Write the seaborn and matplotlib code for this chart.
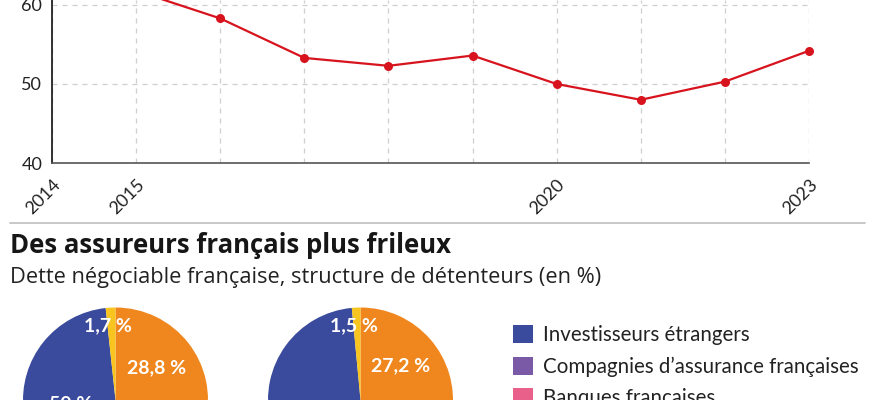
import matplotlib
matplotlib.use("Agg")
import matplotlib.pyplot as plt
import seaborn as sns
import pandas as pd
from matplotlib.lines import Line2D
from matplotlib.patches import Patch
import numpy as np

# ---------------- data ----------------
years = [2015, 2016, 2017, 2018, 2019, 2020, 2021, 2022, 2023]
share = [61.8, 58.3, 53.3, 52.3, 53.6, 50.0, 48.0, 50.3, 54.2]
year_ticks = [2014, 2015, 2016, 2017, 2018, 2019, 2020, 2021, 2022, 2023]
year_labels = ["2014", "2015", "", "", "", "", "2020", "", "", "2023"]
y_ticks = [40, 50, 60]
y_labels = ["40", "50", "60"]

title = "Des assureurs français plus frileux"
subtitle = "Dette négociable française, structure de détenteurs (en %)"

holder_labels = ["Investisseurs étrangers", "Compagnies d’assurance françaises",
                 "Banques françaises", "Banque de France", "Autres"]
holder_colors = ["#3a4a9c", "#7a59a7", "#e9608b", "#f0871e", "#f8c41f"]
pie1_values = [50.0, 13.5, 6.0, 28.8, 1.7]
pie2_values = [54.0, 11.5, 5.8, 27.2, 1.5]
pie1_text = ["50 %", "", "", "28,8 %", "1,7 %"]
pie2_text = ["54 %", "", "", "27,2 %", "1,5 %"]

# ---------------- style ----------------
sns.set_style("white")
plt.rcParams["font.family"] = ["Lato", "DejaVu Sans"]
W, H = 883, 400
fig = plt.figure(figsize=(W / 100, H / 100), dpi=100)

RED = "#d7141e"

# ---------------- line chart ----------------
x0, x1, ybot = 52, 809, 163
ax = fig.add_axes([x0 / W, 1 - ybot / H, (x1 - x0) / W, ybot / H])
df = pd.DataFrame({"year": years, "share": share})
sns.lineplot(data=df, x="year", y="share", ax=ax, color=RED, linewidth=1.6,
             marker="o", markersize=6.5, markeredgewidth=0, markerfacecolor=RED)
for ln in ax.lines:
    ln.set_clip_on(False)
ax.set_xlim(2014, 2023)
ax.set_ylim(40, 60.63)
ax.set_xticks(year_ticks)
ax.set_xticklabels(year_labels, rotation=45, ha="right", rotation_mode="anchor",
                   fontsize=13, color="#222222")
ax.set_yticks(y_ticks)
ax.set_yticklabels(y_labels, fontsize=13, color="#222222")
ax.set_xlabel("")
ax.set_ylabel("")
ax.grid(True, axis="both", linestyle=(0, (4, 4)), color="#cfcfcf", linewidth=0.9)
ax.set_axisbelow(True)
for s in ["top", "right"]:
    ax.spines[s].set_visible(False)
ax.spines["left"].set_color("#111111")
ax.spines["left"].set_linewidth(1.2)
ax.spines["bottom"].set_color("#555555")
ax.spines["bottom"].set_linewidth(1.2)
ax.tick_params(axis="x", direction="inout", length=7, width=1.1, color="#222222", pad=6)
ax.tick_params(axis="y", direction="out", length=3, width=1.1, color="#222222", pad=4)

# ---------------- separator & titles ----------------
fig.add_artist(Line2D([10 / W, 865 / W], [1 - 223 / H, 1 - 223 / H],
                      color="#c8c8c8", linewidth=1.4))
t1 = fig.text(10 / W, 1 - 253 / H, title, fontsize=16.5, fontweight="bold",
              color="#161616", va="baseline", ha="left",
              family=["Open Sans", "DejaVu Sans"])
t2 = fig.text(10 / W, 1 - 283 / H, subtitle, fontsize=14, color="#222222",
              va="baseline", ha="left", family=["Open Sans", "DejaVu Sans"])


def fit_width(txt, target_px):
    for _ in range(3):
        fig.canvas.draw()
        w = txt.get_window_extent().width
        txt.set_fontsize(txt.get_fontsize() * target_px / w)

fit_width(t1, 442)
fit_width(t2, 590)

# ---------------- pies ----------------
R = 92.5
def draw_pie(cx, cy, values, texts):
    pax = fig.add_axes([(cx - R) / W, 1 - (cy + R) / H, 2 * R / W, 2 * R / H])
    start = 90 + 360 * values[-1] / 100
    wedges, _ = pax.pie(values, colors=holder_colors, startangle=start,
                        counterclock=True, radius=1,
                        wedgeprops=dict(linewidth=0))
    pax.set_xlim(-1, 1)
    pax.set_ylim(-1, 1)
    pax.set_aspect("equal")
    pax.axis("off")
    place = {0: (0.5, 0.49), 3: (0.5, 0.57), 4: (1.0, 0.81)}
    for i, (w, t) in enumerate(zip(wedges, texts)):
        if not t:
            continue
        frac, r = place[i]
        ang = np.deg2rad(w.theta1 + frac * (w.theta2 - w.theta1))
        pax.text(r * np.cos(ang), r * np.sin(ang), t, ha="center", va="center",
                 color="white", fontsize=14, fontweight="bold")
    return wedges

draw_pie(115.5, 400, pie1_values, pie1_text)
draw_pie(360.5, 400, pie2_values, pie2_text)

# ---------------- legend ----------------
handles = [Patch(facecolor=c, edgecolor="none") for c in holder_colors]
fig.legend(handles, holder_labels, loc="upper left",
           bbox_to_anchor=(513 / W, 1 - 325 / H), frameon=False,
           fontsize=14.8, handlelength=0.95, handleheight=0.95, handletextpad=0.5,
           labelspacing=0.56, borderpad=0, borderaxespad=0,
           labelcolor="#222222")

fig.savefig("out.png", dpi=100)
